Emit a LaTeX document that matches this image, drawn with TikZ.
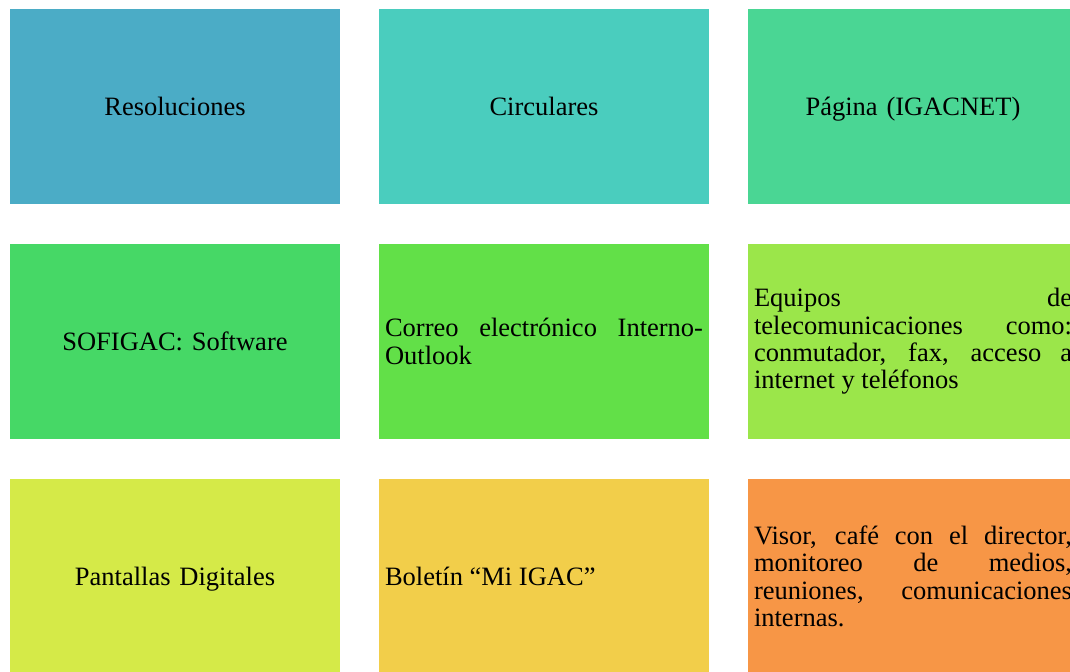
\documentclass[tikz,border=0pt]{standalone}
\usepackage{fontspec}
\setmainfont{Liberation Serif}
\definecolor{bleu}{RGB}{75,172,198}
\definecolor{turquoise}{RGB}{74,205,190}
\definecolor{menthe}{RGB}{74,214,148}
\definecolor{vertfonce}{RGB}{70,216,102}
\definecolor{vert}{RGB}{98,224,72}
\definecolor{vertclair}{RGB}{155,230,74}
\definecolor{citron}{RGB}{213,234,72}
\definecolor{jaune}{RGB}{242,206,74}
\definecolor{orange}{RGB}{247,150,70}
\tikzset{
  boite/.style={fill=#1, minimum width=165pt, minimum height=97.5pt,
    inner xsep=3pt, inner ysep=0pt, text width=159pt,
    font=\fontsize{13.25pt}{13.65pt}\selectfont},
  centre/.style={boite=#1, align=center, text height=12pt, text depth=3pt},
  bloc/.style={boite=#1, align=justify},
}
\begin{document}
\begin{tikzpicture}[x=0.5pt,y=0.5pt]%{{{
\useasboundingbox (0,0) rectangle (1070,671);
\clip (0,0) rectangle (1070,671);
%
% Premiere ligne
\node [centre=bleu]      (resol) at (175,564.5) {Resoluciones};
\node [centre=turquoise] (circ)  at (544,564.5) {Circulares};
\node [centre=menthe]    (pag)   at (913,564.5) {Página (IGACNET)};
%
% Deuxieme ligne
\node [centre=vertfonce] (sofi)  at (175,329.5) {SOFIGAC: Software};
\node [bloc=vert]        (correo) at (544,329.5)
      {Correo electrónico Interno-\linebreak Outlook};
\node [bloc=vertclair]   (equip) at (913,329.5)
      {Equipos de\linebreak telecomunicaciones como:\linebreak
       conmutador, fax, acceso a\linebreak internet y teléfonos};
%
% Troisieme ligne
\node [centre=citron]    (pant)  at (175,94.5) {Pantallas Digitales};
\node [bloc=jaune]       (bol)   at (544,94.5) {Boletín “Mi IGAC”};
\node [bloc=orange]      (visor) at (913,94.5)
      {Visor, café con el director,\linebreak monitoreo de medios,\linebreak
       reuniones, comunicaciones\linebreak internas.};
%
\end{tikzpicture}
\end{document}
